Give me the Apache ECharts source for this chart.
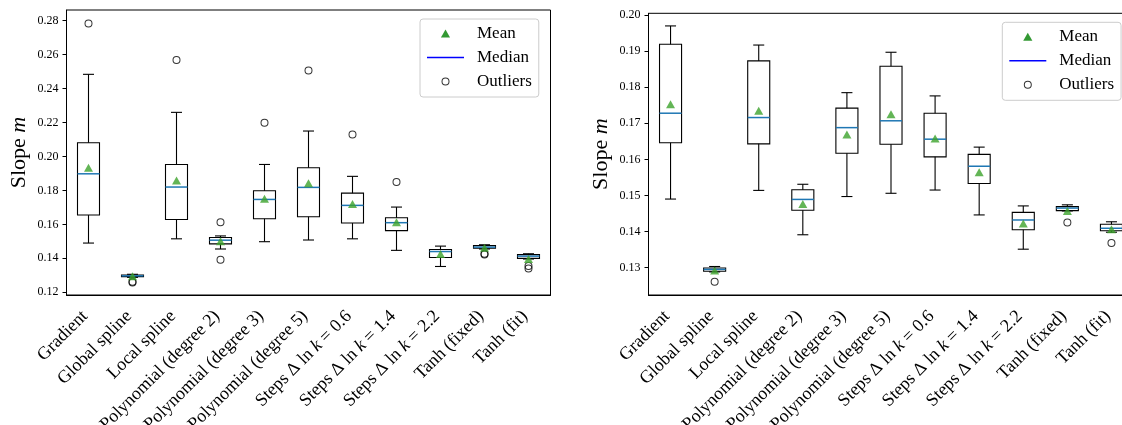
<!DOCTYPE html>
<html>
<head>
<meta charset="utf-8">
<script src="https://cdn.jsdelivr.net/npm/echarts@6/dist/echarts.min.js"></script>
<style>
  html, body { margin: 0; padding: 0; background: #fff; }
  #chart { width: 1122px; height: 425px; }
</style>
</head>
<body>
<div id="chart"></div>
<script>
// categories shared by both panels
const categories = ['Gradient', 'Global spline', 'Local spline', 'Polynomial (degree 2)',
  'Polynomial (degree 3)', 'Polynomial (degree 5)', 'Steps Δ ln k = 0.6',
  'Steps Δ ln k = 1.4', 'Steps Δ ln k = 2.2', 'Tanh (fixed)', 'Tanh (fit)']

// left panel: whisker low, Q1, median, Q3, whisker high, mean
const leftLow = [0.1490, 0.1288, 0.1515, 0.1455, 0.1498, 0.1508, 0.1515, 0.1447, 0.1352, 0.1455, 0.1396]
const leftQ1 = [0.1655, 0.1292, 0.1629, 0.1485, 0.1633, 0.1645, 0.1608, 0.1563, 0.1405, 0.1459, 0.1400]
const leftMed = [0.1898, 0.1297, 0.1820, 0.1507, 0.1747, 0.1818, 0.1712, 0.1610, 0.1440, 0.1466, 0.1413]
const leftQ3 = [0.2081, 0.1302, 0.1953, 0.1523, 0.1798, 0.1934, 0.1784, 0.1639, 0.1452, 0.1475, 0.1422]
const leftHigh = [0.2484, 0.1306, 0.2260, 0.1532, 0.1953, 0.2150, 0.1883, 0.1702, 0.1472, 0.1480, 0.1427]
const leftMean = [0.1934, 0.1295, 0.1859, 0.1500, 0.1751, 0.1843, 0.1720, 0.1612, 0.1425, 0.1462, 0.1396]
const leftOutliers = [[0, 0.2784], [1, 0.1262], [1, 0.1257], [2, 0.2568], [3, 0.1612], [3, 0.1392],
  [4, 0.2199], [5, 0.2507], [6, 0.2130], [7, 0.1849], [9, 0.1427], [9, 0.1423], [10, 0.1355], [10, 0.1340]]
const leftTicks = [0.12, 0.14, 0.16, 0.18, 0.20, 0.22, 0.24, 0.26, 0.28]

// right panel
const rightLow = [0.1490, 0.1288, 0.1514, 0.1391, 0.1497, 0.1506, 0.1515, 0.1446, 0.1351, 0.1457, 0.1398]
const rightQ1 = [0.1646, 0.1290, 0.1643, 0.1459, 0.1617, 0.1642, 0.1607, 0.1533, 0.1405, 0.1458, 0.1402]
const rightMed = [0.1728, 0.1295, 0.1716, 0.1489, 0.1688, 0.1707, 0.1656, 0.1581, 0.1432, 0.1465, 0.1409]
const rightQ3 = [0.1919, 0.1299, 0.1873, 0.1516, 0.1742, 0.1858, 0.1728, 0.1614, 0.1453, 0.1469, 0.1420]
const rightHigh = [0.1970, 0.1303, 0.1917, 0.1531, 0.1785, 0.1897, 0.1776, 0.1634, 0.1471, 0.1474, 0.1427]
const rightMean = [0.1753, 0.1292, 0.1735, 0.1476, 0.1669, 0.1725, 0.1658, 0.1564, 0.1422, 0.1457, 0.1406]
const rightOutliers = [[1, 0.1261], [9, 0.1425], [10, 0.1368]]
const rightTicks = [0.13, 0.14, 0.15, 0.16, 0.17, 0.18, 0.19, 0.20]

const FONT = 'Liberation Serif'
// hollow ring used for outliers (plot and legend)
const RING = 'path://M0,4A4,4 0 1,0 8,4A4,4 0 1,0 0,4Z M1,4A3,3 0 1,1 7,4A3,3 0 1,1 1,4Z'

function boxRows (low, q1, med, q3, high) {
  return categories.map((c, i) => [i, low[i], q1[i], med[i], q3[i], high[i]])
}

function renderBox (params, api) {
  const x = api.value(0)
  const lo = api.coord([x, api.value(1)])
  const q1 = api.coord([x, api.value(2)])
  const med = api.coord([x, api.value(3)])
  const q3 = api.coord([x, api.value(4)])
  const hi = api.coord([x, api.value(5)])
  const band = api.size([1, 0])[0]
  const half = band * 0.25
  const cap = band * 0.125
  const cx = lo[0]
  const black = { stroke: '#000', lineWidth: 1.1 }
  return {
    type: 'group',
    children: [
      { type: 'line', shape: { x1: cx, y1: lo[1], x2: cx, y2: q1[1] }, style: black },
      { type: 'line', shape: { x1: cx, y1: q3[1], x2: cx, y2: hi[1] }, style: black },
      { type: 'line', shape: { x1: cx - cap, y1: lo[1], x2: cx + cap, y2: lo[1] }, style: black },
      { type: 'line', shape: { x1: cx - cap, y1: hi[1], x2: cx + cap, y2: hi[1] }, style: black },
      { type: 'rect', shape: { x: cx - half, y: q3[1], width: half * 2, height: q1[1] - q3[1] },
        style: { fill: 'none', stroke: '#000', lineWidth: 1.1 } },
      { type: 'line', shape: { x1: cx - half, y1: med[1], x2: cx + half, y2: med[1] },
        style: { stroke: '#1f77b4', lineWidth: 1.5 } }
    ]
  }
}

function catLabel (v) {
  return v.replace(' k ', ' {i|k} ')
}

function xAxisFor (gridIndex) {
  return {
    type: 'category',
    gridIndex: gridIndex,
    data: categories,
    boundaryGap: true,
    axisLine: { lineStyle: { color: '#000', width: 1 } },
    axisTick: { alignWithLabel: true, length: 4, lineStyle: { color: '#000' } },
    axisLabel: {
      rotate: 45, interval: 0, margin: 15, color: '#000',
      fontFamily: FONT, fontSize: 18,
      padding: [0, 5, 0, 0],
      formatter: catLabel,
      rich: { i: { fontStyle: 'italic', fontFamily: FONT, fontSize: 18, color: '#000' } }
    },
    splitLine: { show: false }
  }
}

function yAxisFor (gridIndex, min, max, ticks) {
  return {
    type: 'value',
    gridIndex: gridIndex,
    min: min,
    max: max,
    name: 'Slope {m|m}',
    nameLocation: 'middle',
    nameGap: 36,
    nameTextStyle: {
      fontFamily: FONT, fontSize: 22, color: '#000',
      rich: { m: { fontStyle: 'italic', fontFamily: FONT, fontSize: 22, color: '#000' } }
    },
    axisLine: { show: true, lineStyle: { color: '#000', width: 1 } },
    axisTick: { show: true, length: 4, customValues: ticks, lineStyle: { color: '#000' } },
    axisLabel: {
      customValues: ticks, margin: 8, color: '#000',
      fontFamily: FONT, fontSize: 12,
      formatter: v => v.toFixed(2)
    },
    splitLine: { show: false }
  }
}

function legendFor (left, top) {
  return {
    orient: 'vertical',
    left: left,
    top: top,
    itemWidth: 37,
    itemHeight: 8,
    itemGap: 7,
    padding: [6, 7, 7, 7],
    backgroundColor: '#fff',
    borderColor: '#cccccc',
    borderWidth: 1,
    borderRadius: 3,
    selectedMode: false,
    textStyle: { fontFamily: FONT, fontSize: 17, color: '#000', lineHeight: 17, padding: [0, 0, 0, 8] },
    data: [
      { name: 'Mean', icon: 'path://M4,0L8,7H0Z', itemStyle: { color: '#008000', borderWidth: 0 } },
      { name: 'Median', icon: 'path://M0,0H37V1.6H0Z', itemStyle: { color: '#0000ff', borderWidth: 0 } },
      { name: 'Outliers', icon: RING, itemStyle: { color: '#000', borderWidth: 0 } }
    ]
  }
}

function seriesFor (idx, low, q1, med, q3, high, mean, outliers) {
  return [
    {
      name: 'Median', type: 'custom', xAxisIndex: idx, yAxisIndex: idx,
      renderItem: renderBox, data: boxRows(low, q1, med, q3, high),
      encode: { x: 0, y: [1, 2, 3, 4, 5] }, z: 2, silent: true
    },
    {
      name: 'Outliers', type: 'scatter', xAxisIndex: idx, yAxisIndex: idx,
      symbol: RING, symbolSize: 8, data: outliers,
      itemStyle: { color: '#000', borderWidth: 0 }, z: 3, silent: true
    },
    {
      name: 'Mean', type: 'scatter', xAxisIndex: idx, yAxisIndex: idx,
      symbol: 'triangle', symbolSize: [9, 8], data: mean,
      itemStyle: { color: '#3ca22c' }, z: 4, silent: true
    }
  ]
}

const chart = echarts.init(document.getElementById('chart'), null, { renderer: 'canvas' })
chart.setOption({
  animation: false,
  backgroundColor: '#fff',
  grid: [
    { left: 66.5, top: 10, width: 484, height: 285, outerBoundsMode: 'none', containLabel: false,
      show: true, borderColor: '#000', borderWidth: 1 },
    { left: 648.5, top: 13.3, width: 485, height: 281.7, outerBoundsMode: 'none', containLabel: false,
      show: true, borderColor: '#000', borderWidth: 1 }
  ],
  legend: [legendFor(420, 19), legendFor(1002.3, 22.3)],
  xAxis: [xAxisFor(0), xAxisFor(1)],
  yAxis: [
    yAxisFor(0, 0.1184, 0.2863, leftTicks),
    yAxisFor(1, 0.1224, 0.2005, rightTicks)
  ],
  series: [
    ...seriesFor(0, leftLow, leftQ1, leftMed, leftQ3, leftHigh, leftMean, leftOutliers),
    ...seriesFor(1, rightLow, rightQ1, rightMed, rightQ3, rightHigh, rightMean, rightOutliers)
  ]
})
</script>
</body>
</html>
